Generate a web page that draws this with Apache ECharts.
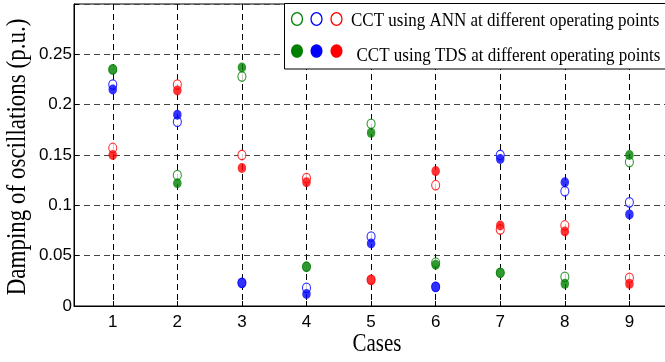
<!DOCTYPE html>
<html>
<head>
<meta charset="utf-8">
<script src="https://cdn.jsdelivr.net/npm/echarts@6/dist/echarts.min.js"></script>
<style>
html,body{margin:0;padding:0;background:#fff;}
#chart{width:665px;height:362px;}
</style>
</head>
<body>
<div id="chart"></div>
<script>
var cases = [1, 2, 3, 4, 5, 6, 7, 8, 9];
var annGreen = [0.235, 0.130, 0.228, 0.039, 0.181, 0.043, 0.033, 0.029, 0.143];
var annBlue  = [0.220, 0.183, 0.023, 0.018, 0.069, 0.019, 0.150, 0.114, 0.103];
var annRed   = [0.157, 0.220, 0.150, 0.127, 0.026, 0.120, 0.076, 0.080, 0.028];
var tdsGreen = [0.235, 0.122, 0.237, 0.039, 0.172, 0.041, 0.033, 0.022, 0.150];
var tdsBlue  = [0.215, 0.190, 0.023, 0.012, 0.062, 0.019, 0.146, 0.123, 0.091];
var tdsRed   = [0.150, 0.214, 0.137, 0.123, 0.026, 0.134, 0.080, 0.074, 0.022];
var yTicks = [0, 0.05, 0.1, 0.15, 0.2, 0.25];
var xTitle = 'Cases';
var yTitle = 'Damping of oscillations (p.u.)';
var legendAnn = 'CCT using ANN at different operating points';
var legendTds = 'CCT using TDS at different operating points';

function pairs(vals) { return cases.map(function (c, i) { return [c, vals[i]]; }); }

var GREEN = '#008000', BLUE = '#0000ff', RED = '#ff0000';

function openSeries(name, vals, color) {
  return {
    name: name, type: 'scatter', data: pairs(vals),
    symbol: 'circle', symbolSize: [8, 9.5],
    itemStyle: { color: '#fff', borderColor: color, borderWidth: 1.2 },
    emphasis: { disabled: true }, z: 3
  };
}
function filledSeries(name, vals, color) {
  return {
    name: name, type: 'scatter', data: pairs(vals),
    symbol: 'circle', symbolSize: [8.5, 10],
    itemStyle: { color: color, borderWidth: 0 },
    emphasis: { disabled: true }, z: 4
  };
}

var chart = echarts.init(document.getElementById('chart'), null, { renderer: 'canvas' });
var option = {
  animation: false,
  backgroundColor: '#fff',
  grid: { left: 74, top: 4, width: 620, bottom: 56, show: true, borderColor: '#000', borderWidth: 1, backgroundColor: 'transparent', containLabel: false, outerBoundsMode: 'none' },
  xAxis: {
    type: 'value', min: 0.4, max: 10,
    axisLine: { show: true, lineStyle: { color: '#000', width: 1 } },
    axisTick: { show: true, inside: true, length: 5, lineStyle: { color: '#000' }, customValues: cases },
    axisLabel: { margin: 8, color: '#000', fontFamily: 'Liberation Sans', fontSize: 17, customValues: cases },
    splitLine: { show: true, lineStyle: { color: '#000', type: [6, 4], width: 1 } }
  },
  yAxis: {
    type: 'value', min: 0, max: 0.3, interval: 0.05,
    axisLine: { show: true, lineStyle: { color: '#000', width: 1 } },
    axisTick: { show: true, inside: true, length: 5, lineStyle: { color: '#000' } },
    axisLabel: {
      margin: 2, color: '#000', fontFamily: 'Liberation Sans', fontSize: 17,
      formatter: function (v) {
        for (var i = 0; i < yTicks.length; i++) { if (Math.abs(v - yTicks[i]) < 1e-6) return String(yTicks[i]); }
        return '';
      }
    },
    splitLine: { show: true, lineStyle: { color: '#444', type: [6, 4], width: 1 } }
  },
  series: [
    openSeries('ANN green', annGreen, GREEN),
    openSeries('ANN blue', annBlue, BLUE),
    openSeries('ANN red', annRed, RED),
    filledSeries('TDS green', tdsGreen, GREEN),
    filledSeries('TDS blue', tdsBlue, BLUE),
    filledSeries('TDS red', tdsRed, RED)
  ],
  graphic: [
    { type: 'text', x: 377, y: 344, scaleY: 1.22, style: { text: xTitle, fill: '#000', font: '21px "Liberation Serif"', align: 'center', verticalAlign: 'middle' } },
    { type: 'text', x: 18, y: 157, rotation: Math.PI / 2, scaleY: 1.15, style: { text: yTitle, fill: '#000', font: '23px "Liberation Serif"', align: 'center', verticalAlign: 'middle' } },
    { type: 'rect', z: 100, shape: { x: 284.5, y: 3.5, width: 400, height: 65.5 }, style: { fill: '#fff', stroke: '#000', lineWidth: 1 } },
    { type: 'ellipse', z: 101, shape: { cx: 297, cy: 19, rx: 5.5, ry: 6.3 }, style: { fill: '#fff', stroke: GREEN, lineWidth: 1.3 } },
    { type: 'ellipse', z: 101, shape: { cx: 316.5, cy: 19, rx: 5.5, ry: 6.3 }, style: { fill: '#fff', stroke: BLUE, lineWidth: 1.3 } },
    { type: 'ellipse', z: 101, shape: { cx: 336.5, cy: 19, rx: 5.5, ry: 6.3 }, style: { fill: '#fff', stroke: RED, lineWidth: 1.3 } },
    { type: 'ellipse', z: 101, shape: { cx: 297, cy: 51, rx: 6, ry: 6.8 }, style: { fill: GREEN } },
    { type: 'ellipse', z: 101, shape: { cx: 316.5, cy: 51, rx: 6, ry: 6.8 }, style: { fill: BLUE } },
    { type: 'ellipse', z: 101, shape: { cx: 336.5, cy: 51, rx: 6, ry: 6.8 }, style: { fill: RED } },
    { type: 'text', z: 101, x: 351, y: 21, scaleY: 1.08, style: { text: legendAnn, fill: '#000', font: '17px "Liberation Serif"', verticalAlign: 'middle' } },
    { type: 'text', z: 101, x: 356.5, y: 56, scaleY: 1.08, style: { text: legendTds, fill: '#000', font: '17px "Liberation Serif"', verticalAlign: 'middle' } }
  ]
};
chart.setOption(option);
</script>
</body>
</html>
